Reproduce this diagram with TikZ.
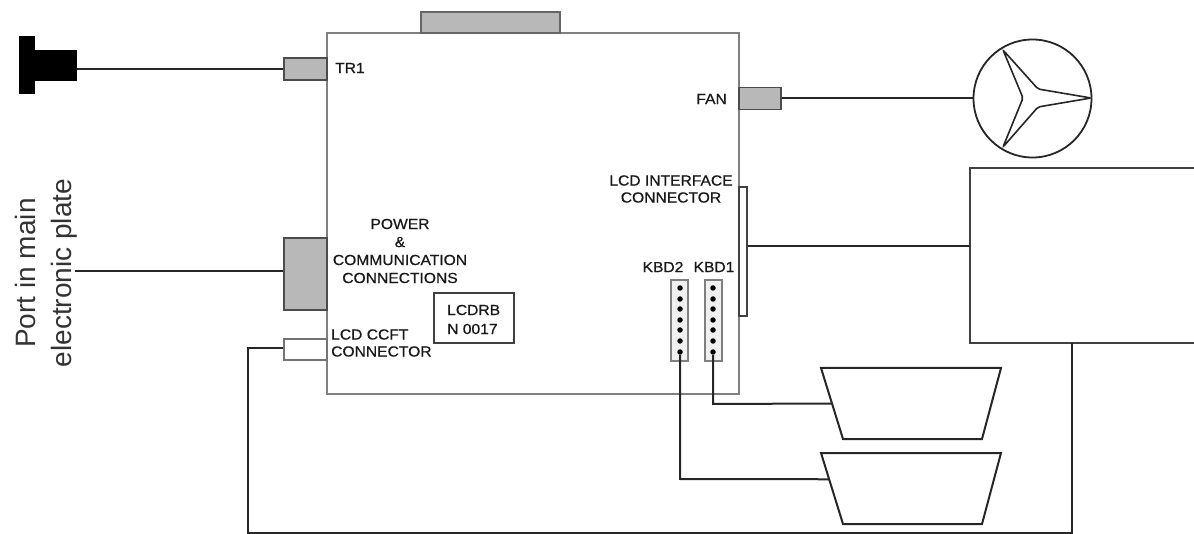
\documentclass[tikz,border=0pt]{standalone}
\usepackage{fontspec}
\setmainfont{Liberation Sans}
\newfontfamily\boardfont[FakeBold=0.7,FakeStretch=1.07]{Liberation Sans}
\usetikzlibrary{calc}
\usetikzlibrary{positioning}

\tikzset{
    wire/.style={line width=2pt, black!85},
    port/.style={draw=black!70, line width=1.8pt, fill=black!28, inner sep=0pt, minimum width=43pt},
    emptyport/.style={port, fill=white, draw=black!55},
    label/.style={font=\boardfont\fontsize{14.6}{17}\selectfont, align=center, inner sep=0pt, text=black!90},
    strip/.style={draw=black!50, line width=1.4pt, fill=black!6, inner sep=0pt, minimum width=17pt, minimum height=81pt},
    pin/.style={circle, fill=black, inner sep=0pt, minimum size=5.5pt},
    keypad/.style={line width=2pt, black!85, line join=miter},
}

\begin{document}
\begin{tikzpicture}[x=1pt, y=-1pt]
    \useasboundingbox (0,0) rectangle (1194,534);

    % Main board
    \node [draw=black!50, line width=2.8pt, inner sep=0pt, minimum width=412pt, minimum height=361pt] (board) at (533,213.5) {};

    % Connectors on the board
    \node [port, draw=black!60, minimum width=139pt, minimum height=21pt] (top) at (490.5,22.5) {};
    \node [port, minimum height=22pt] (tr) at (305.5,69) {};
    \node [port, minimum height=72pt] (power) at (305.5,274) {};
    \node [emptyport, minimum height=21pt] (ccft) at (305.5,349.5) {};
    \node [port, minimum width=42pt, minimum height=22pt] (fan) at (760,98.5) {};
    \node [draw=black!75, line width=1.5pt, fill=white, inner sep=0pt, minimum width=8pt, minimum height=129pt] (lcdif) at (743,251.5) {};

    % Plug
    \fill [black] (19,36) rectangle (35,94);
    \node [fill=black, inner sep=0pt, minimum width=42pt, minimum height=31pt] (plug) at (56,65.5) {};

    % Fan
    \node [draw=black!85, circle, line width=1.8pt, inner sep=0pt, minimum size=118pt] (fanwheel) at (1032.5,98.5) {};
    \coordinate (bladeA) at (1003,50);
    \coordinate (bladeB) at (1003,147);
    \coordinate (bladeC) at (1091,98);
    \draw [line width=1.6pt, black!85, rounded corners=2pt] (bladeA) -- (1023,98) -- (bladeB) -- (1038,107) -- (bladeC) -- (1038,89) -- cycle;

    % Display
    \coordinate (dispTL) at (970,168);
    \coordinate (dispBL) at (970,343);
    \coordinate (dispTR) at (1196,168);
    \coordinate (dispBR) at (1196,343);
    \coordinate (dispL) at (970,246);
    \coordinate (dispB) at (1072,343);
    \draw [wire, black!75, line width=2.4pt] (dispTR) -- (dispTL) -- (dispBL) -- (dispBR);

    % Keypads
    \coordinate (padAa) at (821,368);
    \coordinate (padAb) at (1001,368);
    \coordinate (padAc) at (982,439);
    \coordinate (padAd) at (843,439);
    \coordinate (padBa) at (821,453);
    \coordinate (padBb) at (1001,453);
    \coordinate (padBc) at (982,524);
    \coordinate (padBd) at (843,524);
    \draw [keypad] (padAa) -- (padAb) -- (padAc) -- (padAd) -- cycle;
    \draw [keypad] (padBa) -- (padBb) -- (padBc) -- (padBd) -- cycle;

    % KBD strips
    \node [strip] (kbdtwo) at (679.5,320.5) {};
    \node [strip] (kbdone) at (713.5,320.5) {};
    \foreach \ypin [count=\ipin] in {288,299,309,320,330,341,352} {
        \node [pin] (kbdtwo\ipin) at (680,\ypin) {};
        \node [pin] (kbdone\ipin) at (713,\ypin) {};
    }

    % Wires
    \draw [wire] (plug.east |- tr.west) -- (tr.west);
    \draw [wire] (75,271) coordinate (portend) -- (power.west |- portend);
    \draw [wire] (fan.east) -- (fanwheel.west);
    \draw [wire] (lcdif.east |- dispL) -- (dispL);
    \coordinate (ccftcorner) at (248,348);
    \coordinate (loopA) at (248,533);
    \coordinate (loopB) at (1072,533);
    \draw [wire] (ccft.west |- ccftcorner) -- (ccftcorner) -- (loopA) -- (loopB) -- (dispB);
    \coordinate (kbdonecorner) at (713,404);
    \coordinate (kbdtwocorner) at (680,479);
    \draw [wire] (kbdone7) -- (kbdonecorner) -- ($(padAa)!0.5!(padAd)$ |- kbdonecorner);
    \draw [wire] (kbdtwo7) -- (kbdtwocorner) -- ($(padBa)!0.37!(padBd)$ |- kbdtwocorner);

    % Labels
    \node [label, anchor=west] (trlabel) at (335,68) {TR1};
    \node [label, anchor=east] (fanlabel) at (727,99) {FAN};
    \node [label] (lcdiflabel) at (671,189) {LCD INTERFACE\\CONNECTOR};
    \node [label] (kbdtwolabel) at (663,267) {KBD2};
    \node [label] (kbdonelabel) at (714,267) {KBD1};
    \node [label] (powerlabel) at (400,251) {POWER\\[1pt]\&\\[1pt]COMMUNICATION\\[1pt]CONNECTIONS};
    \node [label, align=left, anchor=west] (ccftlabel) at (331,343) {LCD CCFT\\CONNECTOR};

    % Board name
    \node [draw=black!75, line width=1.5pt, inner sep=0pt, minimum width=80pt, minimum height=50pt] (lcdrb) at (474,318) {};
    \node [label, align=left, anchor=west] (lcdrblabel) at (447,319.5) {LCDRB\\[2pt]N 0017};

    % Port text
    \node [rotate=90, align=center, text=black!80, inner sep=0pt, font=\fontsize{28}{36}\selectfont] (portlabel) at (46,273) {Port in main\\electronic plate};
\end{tikzpicture}
\end{document}
